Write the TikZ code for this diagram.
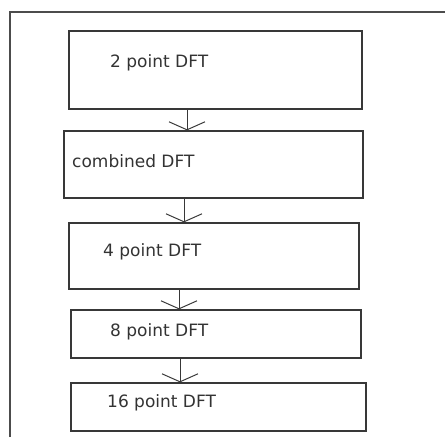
\documentclass[tikz,border=0pt]{standalone}
\usepackage{fontspec}
\newfontfamily\dftfont{DejaVu Sans}
\usetikzlibrary{arrows.meta}

\tikzset{
	stage/.style={draw=black!78,line width=1.3pt,inner sep=0pt},
	lbl/.style={anchor=west,inner sep=0pt,text=black!80,font=\dftfont\fontsize{17}{20}\selectfont},
	arr/.style={draw=black!78,line width=1pt,-{Straight Barb[length=8pt,width=36pt]}}
}

\begin{document}
\begin{tikzpicture}[x=1pt,y=-1pt]
	\useasboundingbox (0,0) rectangle (445,437);
	\draw[black!70,line width=1.3pt] (10,437) -- (10,12) -- (445,12);
	% stages
	\node[stage,minimum width=293pt,minimum height=78pt] (b1) at (215.5,70) {};
	\node[stage,minimum width=299pt,minimum height=67pt] (b2) at (213.5,164.5) {};
	\node[stage,minimum width=290pt,minimum height=66pt] (b3) at (214,256) {};
	\node[stage,minimum width=290pt,minimum height=48pt] (b4) at (216,334) {};
	\node[stage,minimum width=295pt,minimum height=48pt] (b5) at (218.5,407) {};
	\node[lbl] (t1) at (110,63) {2 point DFT};
	\node[lbl] (t2) at (72,161) {combined DFT};
	\node[lbl] (t3) at (103,252) {4 point DFT};
	\node[lbl] (t4) at (110,332) {8 point DFT};
	\node[lbl] (t5) at (107,403) {16 point DFT};
	\draw[arr] ([xshift=-28.5]b1.south) -- ([xshift=-26.5]b2.north);
	\draw[arr] ([xshift=-29.5]b2.south) -- ([xshift=-30]b3.north);
	\draw[arr] ([xshift=-35]b3.south) -- ([xshift=-37]b4.north);
	\draw[arr] ([xshift=-36]b4.south) -- ([xshift=-38.5]b5.north);
\end{tikzpicture}
\end{document}
